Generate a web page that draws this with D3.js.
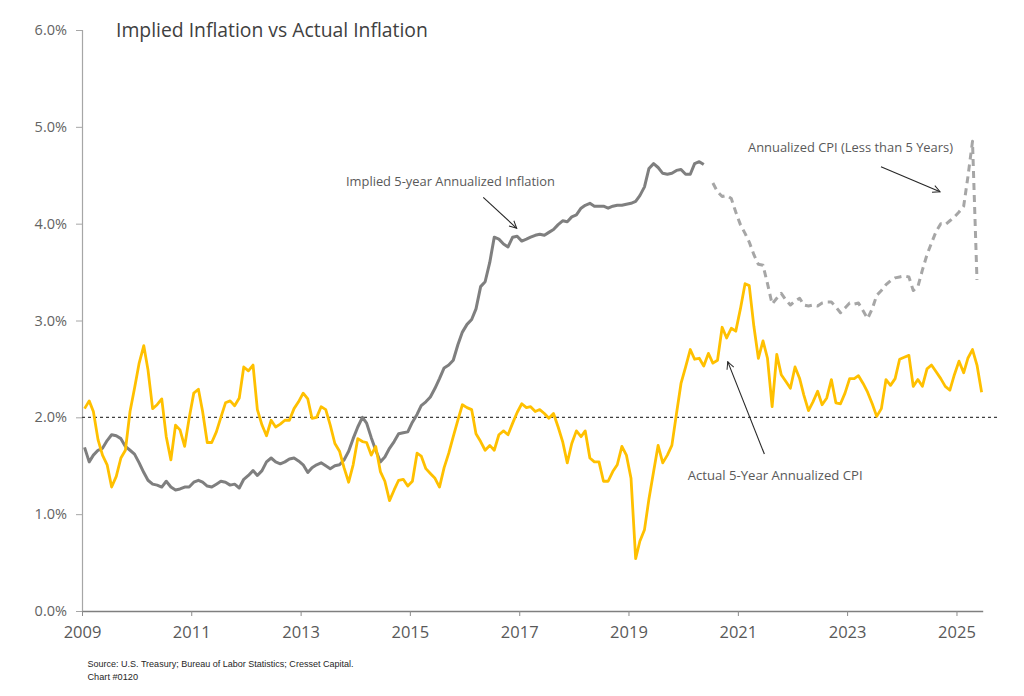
<!DOCTYPE html>
<html><head><meta charset="utf-8">
<script src="https://cdn.jsdelivr.net/npm/d3@7"></script>
<style>body{margin:0;background:#fff;} svg{display:block;}</style>
</head><body>
<svg id="chart" width="1024" height="696"></svg>
<script>
// ---------------- DATA ----------------
const yTickValues = [0, 1, 2, 3, 4, 5, 6];
const xTickYears = [2009, 2011, 2013, 2015, 2017, 2019, 2021, 2023, 2025];
const seriesStart = "2009-01";
// Actual 5-Year Annualized CPI (monthly, from Jan 2009)
const actualCPI = [
 2.09,2.17,2.06,1.77,1.61,1.51,1.28,1.39,1.58,1.66,2.06,2.30,
 2.56,2.74,2.49,2.09,2.13,2.19,1.80,1.56,1.92,1.87,1.70,1.99,
 2.25,2.29,2.06,1.74,1.74,1.85,2.00,2.15,2.17,2.12,2.20,2.52,
 2.48,2.54,2.08,1.92,1.81,1.97,1.90,1.93,1.97,1.97,2.09,2.16,
 2.25,2.19,1.99,2.00,2.11,2.08,1.92,1.73,1.65,1.48,1.33,1.51,
 1.78,1.75,1.74,1.61,1.70,1.44,1.34,1.14,1.25,1.35,1.36,1.29,
 1.34,1.63,1.60,1.47,1.42,1.37,1.28,1.48,1.63,1.80,1.97,2.13,
 2.10,2.08,1.83,1.75,1.66,1.71,1.66,1.82,1.86,1.82,1.94,2.05,
 2.14,2.10,2.11,2.06,2.08,2.04,1.99,2.04,1.90,1.75,1.53,1.73,
 1.86,1.80,1.86,1.58,1.54,1.54,1.34,1.34,1.44,1.51,1.70,1.61,
 1.37,0.54,0.72,0.84,1.16,1.44,1.71,1.53,1.61,1.71,2.04,2.35,
 2.52,2.70,2.60,2.61,2.53,2.66,2.56,2.59,2.93,2.82,2.92,2.89,
 3.12,3.38,3.36,2.94,2.61,2.79,2.61,2.11,2.65,2.44,2.37,2.30,
 2.52,2.40,2.23,2.07,2.16,2.27,2.13,2.20,2.39,2.15,2.14,2.25,
 2.40,2.40,2.43,2.35,2.26,2.14,2.01,2.09,2.39,2.33,2.40,2.60,
 2.62,2.64,2.32,2.39,2.32,2.50,2.54,2.47,2.40,2.32,2.28,2.44,
 2.58,2.46,2.61,2.70,2.54,2.26
];
// Implied 5-year Annualized Inflation (monthly, from Jan 2009)
const impliedInflation = [
 1.69,1.54,1.61,1.66,1.68,1.76,1.82,1.81,1.78,1.70,1.66,1.62,
 1.53,1.43,1.35,1.31,1.30,1.28,1.34,1.28,1.25,1.26,1.28,1.28,
 1.33,1.35,1.33,1.29,1.28,1.31,1.34,1.33,1.30,1.31,1.27,1.36,
 1.40,1.45,1.40,1.45,1.54,1.58,1.54,1.52,1.54,1.57,1.58,1.55,
 1.51,1.43,1.48,1.51,1.53,1.50,1.47,1.50,1.51,1.56,1.65,1.78,
 1.90,2.00,1.94,1.79,1.66,1.54,1.59,1.68,1.75,1.83,1.84,1.85,
 1.95,2.03,2.12,2.16,2.21,2.30,2.40,2.51,2.54,2.59,2.75,2.88,
 2.96,3.01,3.12,3.35,3.40,3.60,3.86,3.84,3.79,3.76,3.86,3.87,
 3.82,3.84,3.86,3.88,3.89,3.88,3.91,3.94,3.99,4.03,4.02,4.07,
 4.09,4.16,4.19,4.21,4.18,4.18,4.18,4.16,4.18,4.19,4.19,4.20,
 4.21,4.23,4.29,4.38,4.57,4.62,4.58,4.52,4.51,4.52,4.55,4.56,
 4.51,4.51,4.62,4.64,4.61
];
// Annualized CPI (Less than 5 Years) (monthly, from Jul 2020)
const shortCPIStart = "2020-07";
const shortCPI = [
 4.42,4.33,4.28,4.29,4.26,4.12,3.99,3.90,3.81,3.68,3.58,3.57,
 3.38,3.17,3.23,3.28,3.21,3.16,3.20,3.23,3.16,3.15,3.16,3.15,
 3.18,3.19,3.19,3.14,3.08,3.13,3.18,3.17,3.18,3.10,3.02,3.12,
 3.26,3.31,3.37,3.41,3.44,3.45,3.46,3.45,3.31,3.35,3.52,3.68,
 3.80,3.92,4.00,3.99,4.03,4.07,4.12,4.18,4.48,4.85,3.42
];
const targetRate = 2.0;
const titleText = "Implied Inflation vs Actual Inflation";
const labelImplied = "Implied 5-year Annualized Inflation";
const labelShort = "Annualized CPI (Less than 5 Years)";
const labelActual = "Actual 5-Year Annualized CPI";
const sourceLines = ["Source: U.S. Treasury; Bureau of Labor Statistics; Cresset Capital.", "Chart #0120"];

// ---------------- HELPERS ----------------
const parseMonth = d3.timeParse("%Y-%m");
function monthlyDates(start, n) {
  const s = parseMonth(start);
  return d3.range(n).map(i => d3.timeDay.offset(d3.timeMonth.offset(s, i), 17));
}
function yearDate(yf) {
  const y0 = Math.floor(yf);
  const d0 = new Date(y0, 0, 1), d1 = new Date(y0 + 1, 0, 1);
  return new Date(+d0 + (yf - y0) * (d1 - d0));
}
const FONT = "'Open Sans', 'Noto Sans', sans-serif";

const svg = d3.select("#chart");
const x = d3.scaleTime().domain([new Date(2009, 0, 1), yearDate(2025.48)]).range([82, 982.7]);
const y = d3.scaleLinear().domain([0, 6]).range([611, 30]);

const actualData = monthlyDates(seriesStart, actualCPI.length).map((d, i) => ({d, v: actualCPI[i]}));
const impliedData = monthlyDates(seriesStart, impliedInflation.length).map((d, i) => ({d, v: impliedInflation[i]}));
const shortData = monthlyDates(shortCPIStart, shortCPI.length).map((d, i) => ({d, v: shortCPI[i]}));

// ---------------- AXES ----------------
const yAxis = svg.append("g").attr("transform", `translate(${x.range()[0]},0)`)
  .call(d3.axisLeft(y).tickValues(yTickValues).tickFormat(d => d.toFixed(1) + "%").tickSize(6).tickPadding(9));
yAxis.select(".domain").attr("stroke", "#a6a6a6").attr("stroke-width", 1.2);
yAxis.selectAll(".tick line").attr("stroke", "#a6a6a6");
yAxis.selectAll("text").attr("font-family", FONT).attr("font-size", 14.5).attr("fill", "#636363");

const xAxis = svg.append("g").attr("transform", `translate(0,${y(0)})`)
  .call(d3.axisBottom(x).tickValues(xTickYears.map(yr => new Date(yr, 0, 1))).tickFormat(d3.timeFormat("%Y")).tickSize(5).tickSizeOuter(0).tickPadding(10));
xAxis.select(".domain").attr("stroke", "#7f7f7f").attr("stroke-width", 1.5);
xAxis.selectAll(".tick line").attr("stroke", "#8c8c8c");
xAxis.selectAll("text").attr("font-family", FONT).attr("font-size", 16.5).attr("fill", "#595959");

// ---------------- REFERENCE LINE ----------------
svg.append("line")
  .attr("x1", x.range()[0]).attr("x2", 1000)
  .attr("y1", y(targetRate)).attr("y2", y(targetRate))
  .attr("stroke", "#404040").attr("stroke-width", 1.3).attr("stroke-dasharray", "3,3");

// ---------------- LINES ----------------
const line = d3.line().x(p => x(p.d)).y(p => y(p.v));
svg.append("path").datum(shortData).attr("d", line)
  .attr("fill", "none").attr("stroke", "#a6a6a6").attr("stroke-width", 3)
  .attr("stroke-dasharray", "7,5").attr("stroke-linejoin", "round");
svg.append("path").datum(impliedData).attr("d", line)
  .attr("fill", "none").attr("stroke", "#7f7f7f").attr("stroke-width", 3).attr("stroke-linejoin", "round");
svg.append("path").datum(actualData).attr("d", line)
  .attr("fill", "none").attr("stroke", "#FFC000").attr("stroke-width", 2.8).attr("stroke-linejoin", "round");

// ---------------- TEXT ----------------
function fitText(sel, width) {
  const node = sel.node();
  const fs = parseFloat(sel.attr("font-size"));
  const w = node.getComputedTextLength();
  if (w > 0) sel.attr("font-size", (fs * width / w).toFixed(2));
  return sel;
}
fitText(svg.append("text").attr("x", 116).attr("y", 36.5).text(titleText)
  .attr("font-family", FONT).attr("font-size", 18).attr("fill", "#404040"), 312);

// arrow marker
svg.append("defs").append("marker").attr("id", "arrow")
  .attr("viewBox", "0 0 10 10").attr("refX", 9).attr("refY", 5)
  .attr("markerWidth", 9).attr("markerHeight", 9).attr("markerUnits", "userSpaceOnUse")
  .attr("orient", "auto")
  .append("path").attr("d", "M1,1 L9,5 L1,9").attr("fill", "none").attr("stroke", "#262626").attr("stroke-width", 1.1);

function annotation(label, tx, tv, width, from, to) {
  fitText(svg.append("text").attr("x", x(yearDate(tx))).attr("y", y(tv)).text(label)
    .attr("font-family", FONT).attr("font-size", 11.5).attr("fill", "#595959"), width);
  svg.append("line")
    .attr("x1", x(yearDate(from[0]))).attr("y1", y(from[1]))
    .attr("x2", x(yearDate(to[0]))).attr("y2", y(to[1]))
    .attr("stroke", "#262626").attr("stroke-width", 1.1).attr("marker-end", "url(#arrow)");
}
annotation(labelImplied, 2013.831, 4.385, 209, [2016.343, 4.272], [2016.954, 3.952]);
annotation(labelShort, 2021.186, 4.745, 205, [2023.620, 4.589], [2024.700, 4.330]);
annotation(labelActual, 2020.083, 1.348, 175, [2021.485, 1.621], [2020.815, 2.575]);

sourceLines.forEach((s, i) => {
  svg.append("text").attr("x", 87.5).attr("y", 666.5 + i * 13.5).text(s)
    .attr("font-family", "'Liberation Sans', Arial, sans-serif").attr("font-size", 9).attr("fill", "#262626")
    .attr("textLength", i === 0 ? 266 : 50.5).attr("lengthAdjust", "spacingAndGlyphs");
});
</script>
</body></html>
